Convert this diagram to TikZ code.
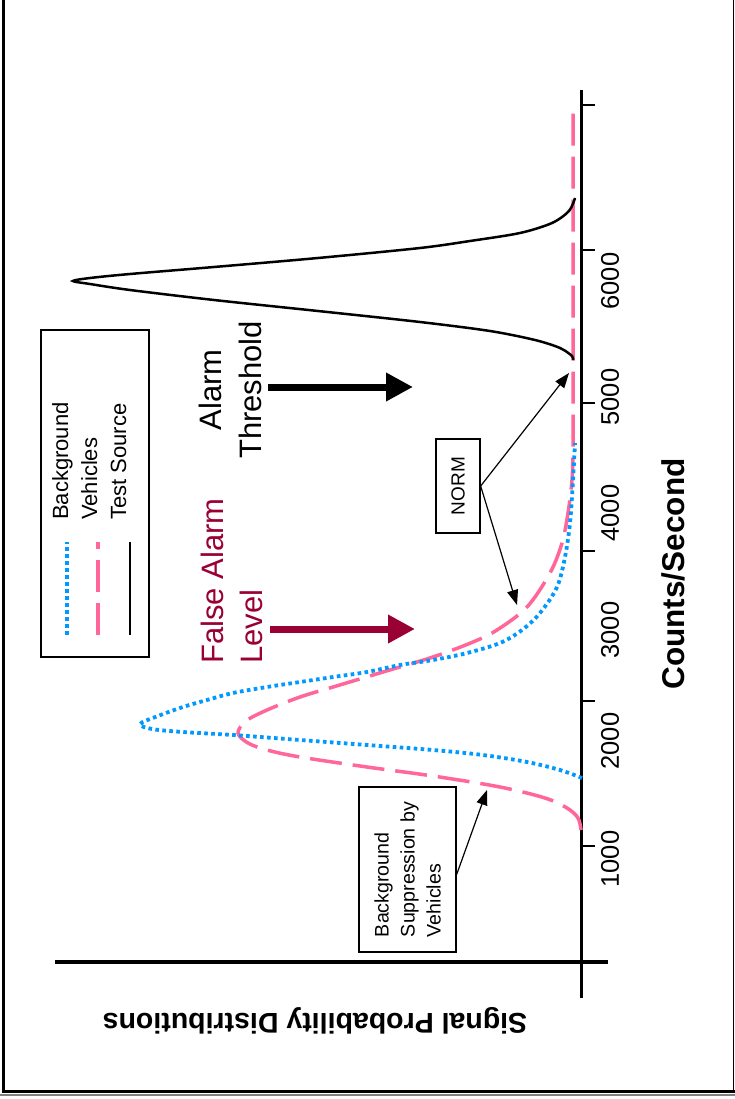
\documentclass[tikz,border=0pt]{standalone}
\usepackage{fontspec}
\setmainfont{Liberation Sans}
\usetikzlibrary{arrows.meta,calc}
\definecolor{bgblue}{RGB}{0,153,255}
\definecolor{vpink}{RGB}{255,102,153}
\definecolor{fared}{RGB}{153,0,51}
\newcommand\myfs[2]{\fontsize{#1}{#2}\selectfont}
\tikzset{
  bgdot/.style={bgblue, line width=3.8, dash pattern=on 3.6 off 3.4},
  vdash/.style={vpink, line width=3.5, dash pattern=on 32 off 11},
  tsline/.style={black, line width=2.5},
  axisline/.style={black, line width=3.5},
  tickline/.style={black, line width=1.8},
  ticklab/.style={rotate=90, font=\myfs{25.5}{30}},
  legtext/.style={rotate=90, anchor=base west, inner sep=0, font=\myfs{22}{26}},
  bigarrow/.style={line width=7, -{Triangle[length=27, width=27]}},
  callout/.style={line width=1.2, -{Triangle[length=15, width=11]}},
  boxnode/.style={draw, line width=1.3, rotate=90, inner sep=0}
}
\begin{document}
\begin{tikzpicture}[x=1pt,y=-1pt]
\useasboundingbox (0,0) rectangle (735,1099);
\fill[white] (0,0) rectangle (735,1099);
% frame
\draw[line width=3] (3,0) -- (3,1091) -- (735,1091);
\draw[line width=1.5, gray] (0,1095) -- (735,1095);
\draw[line width=1.5] (733.5,0) -- (733.5,1091);

% axes
\draw[axisline] (581.5,90) -- (581.5,998);
\draw[axisline, line width=4] (55,962) -- (608,962);
\foreach \ty in {105,250,403,551,701,846}
  \draw[tickline] (581.5,\ty) -- (595,\ty);

% tick labels
\node[ticklab] (t1) at (610,859) {1000};
\node[ticklab] (t2) at (610,741) {2000};
\node[ticklab] (t3) at (610,630) {3000};
\node[ticklab] (t4) at (610,513) {4000};
\node[ticklab] (t5) at (610,397) {5000};
\node[ticklab] (t6) at (610,281) {6000};

\node[rotate=90, font=\bfseries\myfs{31.5}{36}] (xlab) at (673.5,574) {Counts/Second};
\node[rotate=180, font=\bfseries\myfs{28.5}{34}] (ylab) at (315,1021) {Signal Probability Distributions};

% curves
\draw[vdash] plot[smooth, tension=0.55] coordinates {
 (581,830) (578,818) (567,808) (545,798) (500,787) (433,776) (367,767)
 (300,757) (267,750) (248,743) (238,733) (246,721) (267,710) (300,697)
 (333,687) (383,672) (433,657) (473,642) (497,630) (527,607) (550,573)
 (562,543) (568,513) (572,480) (573,447) (573,407) (573,300) (573,105)};
\draw[bgdot] plot[smooth, tension=0.55] coordinates {
 (582,778) (560,770) (527,762) (483,755) (433,750) (367,745) (300,740)
 (233,735) (183,732) (152,729) (140,724) (158,716) (183,707) (207,700)
 (233,693) (267,687) (300,682) (333,677) (367,672) (400,665) (433,660)
 (467,653) (500,643) (522,630) (540,613) (557,587) (565,557) (570,523)
 (573,480) (575,443)};
\draw[tsline] plot[smooth, tension=0.5] coordinates {
 (575,198) (569,211) (552,223) (520,233) (470,241) (420,248) (318,258)
 (214,267) (130,274) (90,278) (73,281) (90,284) (130,290) (214,300)
 (318,311) (420,322) (490,331) (535,340) (560,348) (572,356) (573,360)};

% legend
\draw[line width=1.3] (41,330) rectangle (149,657);
\draw[bgdot] (67,635) -- (67,542);
\draw[vdash] (98,635) -- (98,542);
\draw[tsline] (130,635) -- (130,542);
\node[legtext] (lg1) at (68,520) {Background};
\node[legtext] (lg2) at (97,520) {Vehicles};
\node[legtext] (lg3) at (126,520) {Test Source};

% level labels and arrows
\node[rotate=90, align=center, font=\myfs{31}{40}] (alarm) at (230,390) {Alarm\\Threshold};
\node[rotate=90, align=left, text=fared, font=\myfs{31}{39}] (fal) at (232,581) {False Alarm\\Level};
\coordinate (a0) at (268,387);
\coordinate (a1) at (413,387);
\coordinate (f0) at (270,629);
\coordinate (f1) at (415,629);
\draw[bigarrow] (a0) -- (a1);
\draw[bigarrow, fared] (f0) -- (f1);

% NORM callout
\node[boxnode, minimum width=94, minimum height=44, font=\myfs{19}{22}] (norm) at (458,486) {NORM};
\coordinate (n1) at (569,373);
\coordinate (n2) at (517,605);
\draw[callout] (norm.south) -- (n1);
\draw[callout] (norm.south) -- (n2);

% Background suppression callout
\node[boxnode, align=left, minimum width=165, minimum height=97, font=\myfs{19.6}{26}] (supp) at (407.5,869.5) {Background\\Suppression by\\Vehicles};
\coordinate (s1) at (487,790);
\draw[callout] ($(supp.south)+(0,5)$) -- (s1);
\end{tikzpicture}
\end{document}
